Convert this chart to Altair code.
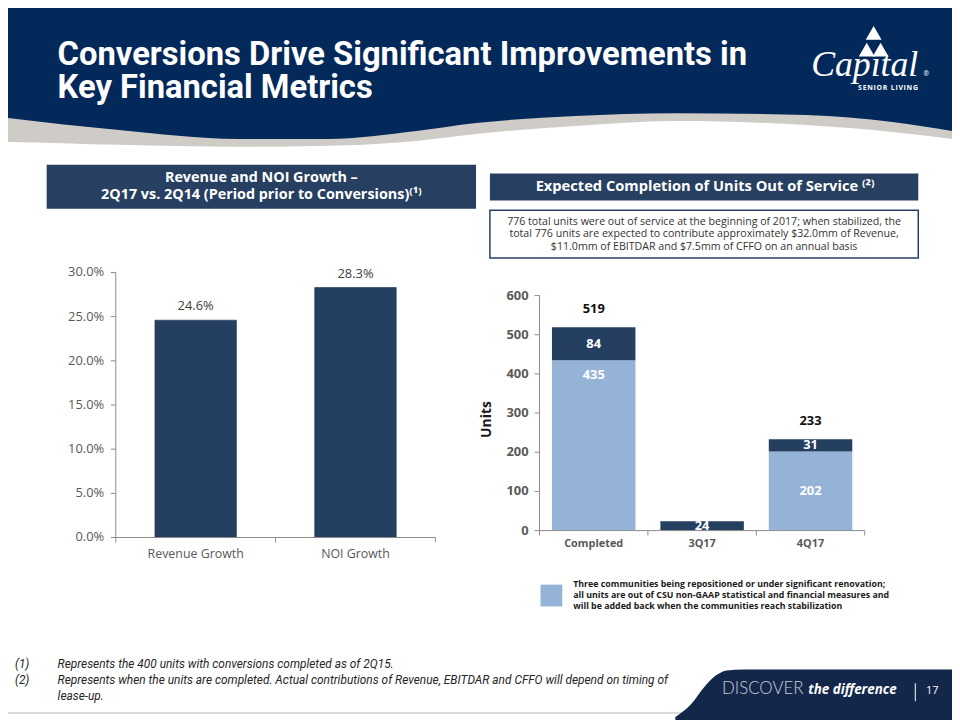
import altair as alt
import pandas as pd

# ---------------- chart values ----------------
growth_categories = ["Revenue Growth", "NOI Growth"]
growth_values = [0.246, 0.283]
growth_axis_ticks = [0.0, 0.05, 0.10, 0.15, 0.20, 0.25, 0.30]

unit_categories = ["Completed", "3Q17", "4Q17"]
repositioned_units = [435, 0, 202]   # light blue segment
other_units = [84, 24, 31]           # dark segment
unit_axis_ticks = [0, 100, 200, 300, 400, 500, 600]
total_label_categories = ["Completed", "4Q17"]
end_label_categories = ["Completed"]  # light-segment label placed at inside end

# ---------------- texts ----------------
title_lines = ["Conversions Drive Significant Improvements in", "Key Financial Metrics"]
left_box_lines = ["Revenue and NOI Growth \u2013", "2Q17 vs. 2Q14 (Period prior to Conversions)\u207d\u00b9\u207e"]
right_box_text = "Expected Completion of Units Out of Service \u207d\u00b2\u207e"
note_lines = [
    "776 total units were out of service at the beginning of 2017; when stabilized, the",
    "total 776 units are expected to contribute approximately $32.0mm of Revenue,",
    "$11.0mm of EBITDAR and $7.5mm of CFFO on an annual basis",
]
legend_lines = [
    "Three communities being repositioned or under significant renovation;",
    "all units are out of CSU non-GAAP statistical and financial measures and",
    "will be added back when the communities reach stabilization",
]
footnote_marks = ["(1)", "(2)", ""]
footnote_lines = [
    "Represents the 400 units with conversions completed as of 2Q15.",
    "Represents when the units are completed. Actual contributions of Revenue, EBITDAR and CFFO will depend on timing of",
    "lease-up.",
]

# ---------------- styling / layout ----------------
M = 8            # page margin: reference pixel -> canvas pixel
W, H = 952, 712
FONT = "Open Sans"
NARROW = "Roboto"
HEADER_NAVY = "#03295a"
WAVE_GRAY = "#cfcbc6"
BOX_NAVY = "#273f61"
BAR_DARK = "#243f60"
BAR_LIGHT = "#95b3d7"
FOOTER_NAVY = "#13274a"
AXIS_GRAY = "#8c8c8c"
LABEL_GRAY = "#595959"

# decorative outlines (reference pixel coordinates)
wave_x = [-8, 0, 120, 240, 330, 420, 480, 580, 680, 813, 900, 960]
wave_gray_y = [140, 140, 143, 145, 144, 139, 132, 124, 119, 123, 130, 137]
wave_navy_y = [114, 115, 128, 137, 137, 129, 121, 114, 111, 113, 120, 129]
footer_x = [681, 697, 710, 722, 733, 750, 960]
footer_y = [720, 707, 690, 678, 673, 672, 672]

ONE = pd.DataFrame({"k": [0]})


def text(s, x, y, size, color="#000000", weight="normal", style="normal", font=FONT,
         align="left", baseline="middle", angle=0):
    return alt.Chart(ONE).mark_text(
        fontSize=size, color=color, fontWeight=weight, fontStyle=style, font=font,
        align=align, baseline=baseline, angle=angle,
    ).encode(x=alt.value(x - M), y=alt.value(y - M), text=alt.value(s))


def rect(x0, y0, x1, y1, fill, stroke=None, sw=1.0):
    kw = dict(fill=fill)
    if stroke:
        kw.update(stroke=stroke, strokeWidth=sw)
    return alt.Chart(ONE).mark_rect(**kw).encode(
        x=alt.value(x0 - M), x2=alt.value(x1 - M), y=alt.value(y0 - M), y2=alt.value(y1 - M))


def shape(xs, ys, color, base):
    df = pd.DataFrame({"x": [v - M for v in xs], "y": [v - M for v in ys]})
    return alt.Chart(df).mark_area(color=color, interpolate="monotone").encode(
        x=alt.X("x:Q", scale=None, axis=None),
        y=alt.Y("y:Q", scale=None, axis=None, stack=None),
        y2=alt.value(base - M))


def axis_layers(cats, xscale, ticks, yscale, x0, x1, y0, fmt, tick_font_weight, tick_label_x,
                cat_label_y, cat_size, cat_weight, gap):
    """Axis lines, ticks and labels drawn through the chart's own scales."""
    t_df = pd.DataFrame({"t": ticks})
    c_df = pd.DataFrame({"category": cats})
    yd = alt.Chart(ONE).mark_rule(color=AXIS_GRAY, strokeWidth=1).encode(
        x=alt.value(x0 - M),
        y=alt.Y(datum=ticks[0], scale=yscale, axis=None), y2=alt.Y2(datum=ticks[-1]))
    yt = alt.Chart(t_df).mark_rule(color=AXIS_GRAY, strokeWidth=1).encode(
        y=alt.Y("t:Q", scale=yscale, axis=None), x=alt.value(x0 - M - 5), x2=alt.value(x0 - M))
    yl = alt.Chart(t_df).mark_text(align="right", baseline="middle", font=FONT, fontSize=13,
                                   fontWeight=tick_font_weight, color=LABEL_GRAY).encode(
        y=alt.Y("t:Q", scale=yscale, axis=None), x=alt.value(tick_label_x - M),
        text=alt.Text("t:Q", format=fmt))
    xd = alt.Chart(ONE).mark_rule(color=AXIS_GRAY, strokeWidth=1).encode(
        x=alt.value(x0 - M), x2=alt.value(x1 - M), y=alt.Y(datum=ticks[0], scale=yscale, axis=None))
    xt_a = alt.Chart(c_df).mark_rule(color=AXIS_GRAY, xOffset=-gap).encode(
        x=alt.X("category:N", scale=xscale, sort=cats, axis=None, bandPosition=0),
        y=alt.value(y0 - M), y2=alt.value(y0 - M + 5))
    xt_b = alt.Chart(c_df.iloc[-1:]).mark_rule(color=AXIS_GRAY, xOffset=gap).encode(
        x=alt.X("category:N", scale=xscale, sort=cats, axis=None, bandPosition=1),
        y=alt.value(y0 - M), y2=alt.value(y0 - M + 5))
    xl = alt.Chart(c_df).mark_text(baseline="middle", font=FONT, fontSize=cat_size,
                                   fontWeight=cat_weight, color=LABEL_GRAY).encode(
        x=alt.X("category:N", scale=xscale, sort=cats, axis=None),
        y=alt.value(cat_label_y - M), text="category:N")
    return [yd, yt, yl, xd, xt_a, xt_b, xl]


decor = []
# header
decor.append(shape(wave_x, wave_gray_y, WAVE_GRAY, 0))
decor.append(shape(wave_x, wave_navy_y, HEADER_NAVY, 0))
decor.append(text(title_lines[0], 58, 62, 33, "white", "bold", font=NARROW, baseline="alphabetic"))
decor.append(text(title_lines[1], 58, 95.5, 33, "white", "bold", font=NARROW, baseline="alphabetic"))
# logo
tri = pd.DataFrame({"x": [881 - M, 874 - M, 888 - M], "y": [30 - M, 47 - M, 47 - M]})
decor.append(alt.Chart(tri).mark_point(shape="triangle-up", filled=True, size=256, color="white", opacity=1)
             .encode(x=alt.X("x:Q", scale=None, axis=None), y=alt.Y("y:Q", scale=None, axis=None)))
decor.append(text("Capital", 818, 74, 36, "white", style="italic", font="Liberation Serif", baseline="alphabetic"))
decor.append(text("\u00ae", 931, 72, 7, "white"))
decor.append(text("\u200a".join("SENIOR") + "\u2002" + "\u200a".join("LIVING"), 895.5, 86, 7, "white", "bold",
                  align="center"))

# left panel header box
decor.append(rect(47, 163, 480, 207.5, BOX_NAVY))
decor.append(text(left_box_lines[0], 263.5, 176.5, 14.5, "white", "bold", align="center"))
decor.append(text(left_box_lines[1], 263.5, 193.5, 14.5, "white", "bold", align="center"))
# right panel header box + note box
decor.append(rect(494, 172, 926, 199, BOX_NAVY))
decor.append(text(right_box_text, 711, 186, 14.8, "white", "bold", align="center"))
decor.append(rect(494, 209, 926, 257, "white", BOX_NAVY, 1.5))
for i, line in enumerate(note_lines):
    decor.append(text(line, 710, 220.5 + 12.8 * i, 10.7, "#333333", align="center"))

# ---------------- left chart ----------------
L_X0, L_X1 = 116.7, 439.0
L_Y0, L_Y1 = 539.0, 271.7
l_pi = 0.49
l_po = l_pi / 2
l_step = (L_X1 - L_X0) / (len(growth_categories) - l_pi + 2 * l_po)
l_gap = l_pi * l_step / 2
l_xscale = alt.Scale(domain=growth_categories, range=[L_X0 - M, L_X1 - M], paddingInner=l_pi, paddingOuter=l_po)
l_yscale = alt.Scale(domain=[0, 0.30], range=[L_Y0 - M, L_Y1 - M], nice=False, zero=False)
left_df = pd.DataFrame({"category": growth_categories, "value": growth_values})

l_bars = alt.Chart(left_df).mark_bar(color=BAR_DARK, stroke="#1d3352", strokeWidth=0.6).encode(
    x=alt.X("category:N", scale=l_xscale, sort=growth_categories, axis=None),
    y=alt.Y("value:Q", scale=l_yscale, axis=None),
)
l_labels = alt.Chart(left_df).mark_text(dy=-14, baseline="middle", font=FONT, fontSize=13, color="#404040").encode(
    x=alt.X("category:N", scale=l_xscale, sort=growth_categories, axis=None),
    y=alt.Y("value:Q", scale=l_yscale, axis=None),
    text=alt.Text("value:Q", format=".1%"),
)
left_chart = alt.layer(
    l_bars, l_labels,
    *axis_layers(growth_categories, l_xscale, growth_axis_ticks, l_yscale, L_X0, L_X1, L_Y0, ".1%",
                 "normal", 105, 556, 12.5, "normal", l_gap))

# ---------------- right chart ----------------
R_X0, R_X1 = 544.0, 872.0
R_Y0, R_Y1 = 532.0, 295.0
r_pi = 0.23
r_po = r_pi / 2
r_step = (R_X1 - R_X0) / (len(unit_categories) - r_pi + 2 * r_po)
r_gap = r_pi * r_step / 2
r_xscale = alt.Scale(domain=unit_categories, range=[R_X0 - M, R_X1 - M], paddingInner=r_pi, paddingOuter=r_po)
r_yscale = alt.Scale(domain=[0, 600], range=[R_Y0 - M, R_Y1 - M], nice=False, zero=False)
r_cscale = alt.Scale(domain=["Repositioned", "Other"], range=[BAR_LIGHT, BAR_DARK])

rows = []
for i, cat in enumerate(unit_categories):
    base = 0
    for seg, vals in (("Repositioned", repositioned_units), ("Other", other_units)):
        v = vals[i]
        if v > 0:
            end_lbl = seg == "Repositioned" and cat in end_label_categories
            rows.append(dict(category=cat, segment=seg, units=v, y0=base, y1=base + v,
                             mid=base + v / 2, end_label=end_lbl))
        base += v
r_df = pd.DataFrame(rows)
tot_df = pd.DataFrame({
    "category": unit_categories,
    "total": [a + b for a, b in zip(repositioned_units, other_units)],
})
tot_df = tot_df[tot_df["category"].isin(total_label_categories)]

r_bars = alt.Chart(r_df).mark_bar().encode(
    x=alt.X("category:N", scale=r_xscale, sort=unit_categories, axis=None),
    y=alt.Y("y1:Q", scale=r_yscale, axis=None),
    y2="y0:Q",
    color=alt.Color("segment:N", scale=r_cscale, legend=None),
)
r_mid_labels = alt.Chart(r_df).transform_filter("!datum.end_label").mark_text(
    baseline="middle", font=FONT, fontSize=13, fontWeight="bold", color="white").encode(
    x=alt.X("category:N", scale=r_xscale, sort=unit_categories, axis=None),
    y=alt.Y("mid:Q", scale=r_yscale, axis=None),
    text=alt.Text("units:Q", format="d"),
)
r_end_labels = alt.Chart(r_df).transform_filter("datum.end_label").mark_text(
    baseline="middle", dy=15, font=FONT, fontSize=13, fontWeight="bold", color="white").encode(
    x=alt.X("category:N", scale=r_xscale, sort=unit_categories, axis=None),
    y=alt.Y("y1:Q", scale=r_yscale, axis=None),
    text=alt.Text("units:Q", format="d"),
)
r_totals = alt.Chart(tot_df).mark_text(
    baseline="middle", dy=-18, font=FONT, fontSize=13, fontWeight="bold", color="#111111").encode(
    x=alt.X("category:N", scale=r_xscale, sort=unit_categories, axis=None),
    y=alt.Y("total:Q", scale=r_yscale, axis=None),
    text=alt.Text("total:Q", format="d"),
)
r_legend_sq = alt.Chart(pd.DataFrame({"segment": ["Repositioned"]})).mark_square(size=484, opacity=1).encode(
    x=alt.value(556 - M), y=alt.value(597.5 - M),
    color=alt.Color("segment:N", scale=r_cscale, legend=None))
right_chart = alt.layer(
    r_bars,
    *axis_layers(unit_categories, r_xscale, unit_axis_ticks, r_yscale, R_X0, R_X1, R_Y0, "d",
                 "bold", 533, 546, 11, "bold", r_gap),
    r_mid_labels, r_end_labels, r_totals, r_legend_sq)

decor2 = []
decor2.append(text("Units", 491, 420, 14, "#1a1a1a", "bold", align="center", angle=270))
for i, line in enumerate(legend_lines):
    decor2.append(text(line, 578, 586 + 11 * i, 8.9, "#1a1a1a", "bold"))

# footnotes
for i, (mk, line) in enumerate(zip(footnote_marks, footnote_lines)):
    y = 667 + 15.7 * i
    if mk:
        decor2.append(text(mk, 15, y, 12, "#262626", style="italic", font=NARROW))
    decor2.append(text(line, 58, y, 12, "#262626", style="italic", font=NARROW))

# footer
decor2.append(alt.Chart(ONE).mark_rule(color="#b5b5b5", strokeWidth=1).encode(
    x=alt.value(0), x2=alt.value(700 - M), y=alt.value(716 - M)))
decor2.append(shape(footer_x, footer_y, FOOTER_NAVY, 724))
decor2.append(text("DISCOVER", 728, 697, 17, "#c9ced8", 300, font="Lato", baseline="alphabetic"))
decor2.append(text("the difference", 815, 697, 13.5, "white", "bold", "italic", baseline="alphabetic"))
decor2.append(alt.Chart(ONE).mark_rule(color="white", strokeWidth=1).encode(
    x=alt.value(923 - M), y=alt.value(686 - M), y2=alt.value(704 - M)))
decor2.append(text("17", 940, 697, 11, "white", align="center", baseline="alphabetic"))

chart = alt.layer(*decor, left_chart, right_chart, *decor2).resolve_scale(
    x="independent", y="independent", color="independent"
).properties(
    width=W, height=H, padding=0, autosize=alt.AutoSizeParams(type="none"), background="white"
).configure_view(stroke=None)

chart.save("out.html", embed_options={"renderer": "svg", "actions": False})
